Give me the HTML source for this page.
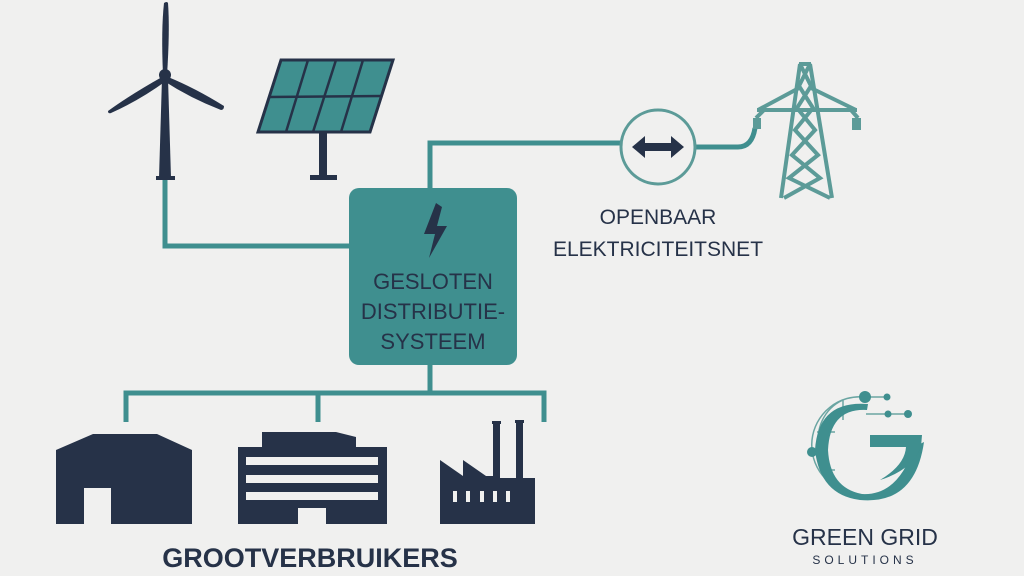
<!DOCTYPE html>
<html><head><meta charset="utf-8"><style>
html,body{margin:0;padding:0;background:#f0f0ef;}
svg{display:block}
text{font-family:"Liberation Sans",sans-serif;fill:#263248;}
</style></head><body>
<svg width="1024" height="576" viewBox="0 0 1024 576" xmlns="http://www.w3.org/2000/svg">
<rect width="1024" height="576" fill="#f0f0ef"/>
<g fill="none" stroke="#3f8f8f" stroke-width="5">
<path d="M165 178 V246 H350"/>
<path d="M430 190 V143 H621"/>
<path d="M695 147 H738 Q752 147 755 128"/>
<path d="M430 365 V393"/>
<path d="M126 422 V393 H544 V422"/>
<path d="M318 393 V422"/>
</g>
<g fill="#263248">
<polygon points="162,78 168,78 171,178 159,178"/>
<rect x="156" y="176" width="19" height="4"/>
<path d="M163 75 Q161 30 164 3 Q167 1 168 3 Q170 30 167 75 Z"/>
<path d="M162 77 Q130 95 108 111 Q108 114 111 113 Q140 100 166 81 Z"/>
<path d="M168 77 Q195 88 224 106 Q224 110 221 110 Q190 98 164 81 Z"/>
<circle cx="165" cy="75" r="6"/>
</g>
<polygon points="281,60 393,60 370,132 258,132" fill="#3f8f8f" stroke="#263248" stroke-width="3"/>
<g stroke="#263248" stroke-width="2.5">
<line x1="269" y1="97" x2="382" y2="96"/>
<line x1="308" y1="60" x2="286" y2="132"/>
<line x1="336" y1="60" x2="313" y2="132"/>
<line x1="363" y1="60" x2="341" y2="132"/>
</g>
<rect x="319" y="132" width="8" height="46" fill="#263248"/>
<rect x="310" y="175" width="27" height="5" fill="#263248"/>
<rect x="349" y="188" width="168" height="177" rx="10" fill="#3f8f8f"/>
<polygon points="436,203 424,234 435,234 429,258 447,226 437,226 442,207" fill="#263248"/>
<text x="433" y="289" font-size="22" text-anchor="middle">GESLOTEN</text>
<text x="433" y="319" font-size="22" text-anchor="middle">DISTRIBUTIE-</text>
<text x="433" y="349" font-size="22" text-anchor="middle">SYSTEEM</text>
<circle cx="658" cy="147" r="37" fill="#f0f0ef" stroke="#5c9b98" stroke-width="3"/>
<polygon points="632,147 645,136 645,143 671,143 671,136 684,147 671,158 671,151 645,151 645,158" fill="#263248"/>
<text x="658" y="224" font-size="21" text-anchor="middle">OPENBAAR</text>
<text x="658" y="256" font-size="21" text-anchor="middle">ELEKTRICITEITSNET</text>
<g fill="none" stroke="#5c9b98" stroke-width="4">
<path d="M799 64 H811 M800 64 L781 198 M810 64 L832 198"/>
<path d="M800 64 L811 86 L797 108 L815 130 L792 155 L820 178 L784 198 M810 64 L799 86 L813 108 L795 130 L818 155 L789 178 L830 198"/>
<path d="M758 110 L799 88 M811 88 L856 110 M757 110 H857 M764 110 L756 118 M851 110 L858 118"/>
</g>
<rect x="753" y="118" width="8" height="11" fill="#5c9b98"/>
<rect x="852" y="118" width="9" height="12" fill="#5c9b98"/>
<g fill="#263248">
<polygon points="56,450 93,434 157,434 192,450 192,524 111,524 111,488 84,488 84,524 56,524"/>
<path d="M238 447 H262 V432 H336 L356 437 V447 H387 V524 H326 V508 H298 V524 H238 Z"/>
<polygon points="440,460 463,476 463,460 486,476 493,476 493,424 500,424 500,478 516,478 516,423 523,423 523,478 535,478 535,524 440,524"/>
</g>
<rect x="492" y="421" width="9" height="3" fill="#263248"/><rect x="515" y="420" width="9" height="3" fill="#263248"/>
<g fill="#f0f0ef">
<rect x="246" y="457" width="132" height="8"/><rect x="246" y="475" width="132" height="8"/><rect x="246" y="492" width="132" height="8"/>
<rect x="453" y="491" width="4" height="11"/><rect x="466" y="491" width="4" height="11"/><rect x="480" y="491" width="4" height="11"/><rect x="493" y="491" width="4" height="11"/><rect x="506" y="491" width="4" height="11"/>
</g>
<text x="310" y="567" font-size="27" font-weight="bold" text-anchor="middle">GROOTVERBRUIKERS</text>
<g fill="none" stroke="#6aa5a2" stroke-width="1.5">
<path d="M865 397 A48 48 0 0 0 855 493"/>
<path d="M843 400 A42 42 0 0 0 820 450"/>
<line x1="843" y1="400" x2="843" y2="420"/><line x1="817" y1="432" x2="835" y2="432"/><line x1="820" y1="470" x2="835" y2="470"/>
<line x1="865" y1="397" x2="888" y2="397"/><line x1="866" y1="414" x2="907" y2="414"/>
</g>
<g fill="#3f8f8f">
<circle cx="865" cy="397" r="6"/><circle cx="887" cy="397" r="3.5"/><circle cx="888" cy="414" r="3.5"/><circle cx="908" cy="414" r="4"/><circle cx="812" cy="452" r="5"/>
<path d="M867 410 Q830 408 828 450 Q830 488 862 494 Q898 496 914 447 L924 442 Q915 505 860 500 Q820 495 815 450 Q818 400 868 404 Z"/>
<path d="M870 435 H922 L921 447 Q912 470 880 480 Q905 465 906 447 H870 Z"/>
</g>
<text x="865" y="545" font-size="23" text-anchor="middle">GREEN GRID</text>
<text x="865" y="564" font-size="12" text-anchor="middle" letter-spacing="4">SOLUTIONS</text>
</svg>
</body></html>
